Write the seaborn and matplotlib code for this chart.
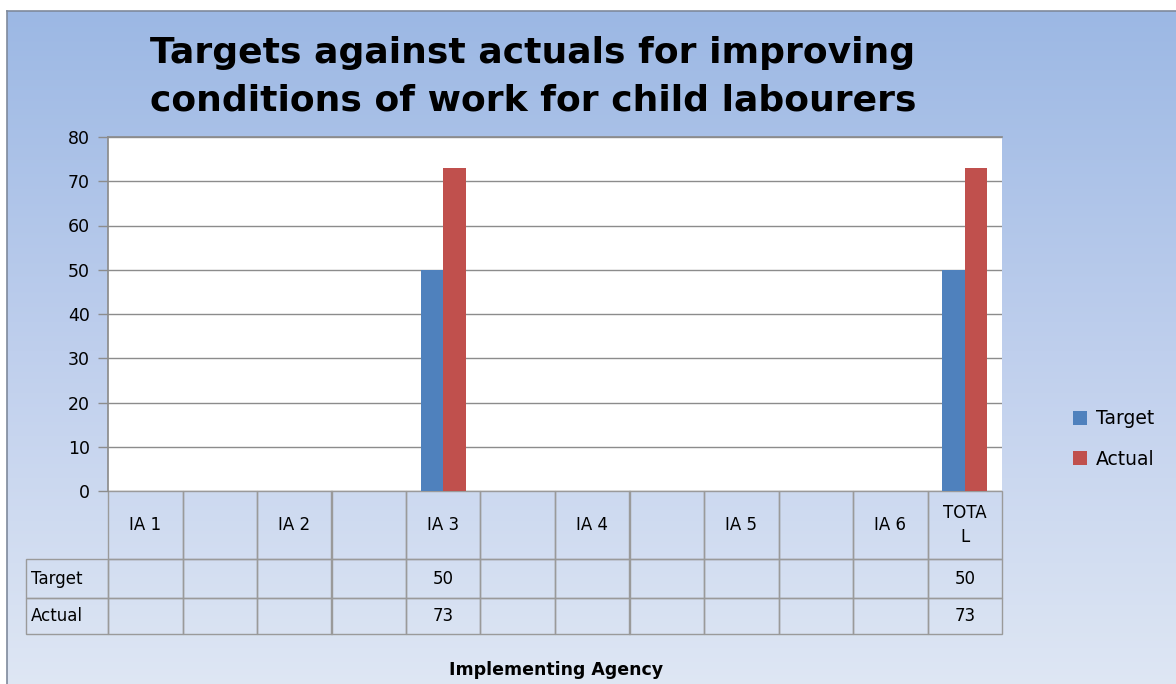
import numpy as np
import pandas as pd
import matplotlib
matplotlib.use("Agg")
import matplotlib.pyplot as plt
import seaborn as sns
from matplotlib.colors import LinearSegmentedColormap

# ---- data ----
categories = ["IA 1", "", "IA 2", "", "IA 3", "", "IA 4", "", "IA 5", "", "IA 6", "TOTAL"]
header_labels = ["IA 1", "", "IA 2", "", "IA 3", "", "IA 4", "", "IA 5", "", "IA 6", "TOTA\nL"]
target = [np.nan, np.nan, np.nan, np.nan, 50, np.nan, np.nan, np.nan, np.nan, np.nan, np.nan, 50]
actual = [np.nan, np.nan, np.nan, np.nan, 73, np.nan, np.nan, np.nan, np.nan, np.nan, np.nan, 73]
series_names = ["Target", "Actual"]
yticks = [0, 10, 20, 30, 40, 50, 60, 70, 80]
title = "Targets against actuals for improving\nconditions of work for child labourers"
xlabel = "Implementing Agency"

colors = ["#4F81BD", "#C0504D"]

sns.set_theme(style="white")
plt.rcParams['font.family'] = ['DejaVu Sans']
plt.rcParams['text.color'] = 'black'
plt.rcParams['ytick.color'] = 'black'
plt.rcParams['axes.labelcolor'] = 'black'

W, H = 1176, 684
fig = plt.figure(figsize=(W / 100, H / 100), dpi=100)
fig.patch.set_facecolor("white")

# background gradient chart area
bg = fig.add_axes([7 / W, -0.01, 1 - 7 / W + 0.01, 1 - 11 / H + 0.01])
cmap = LinearSegmentedColormap.from_list("bg", ["#9CB8E4", "#BFCFED", "#DFE7F4"])
grad = np.linspace(0, 1, 256).reshape(-1, 1)
bg.imshow(grad, aspect="auto", cmap=cmap, extent=[0, 1, 0, 1], origin="upper")
bg.set_xticks([]); bg.set_yticks([])
for k, s in bg.spines.items():
    s.set_color("#7F8A9C"); s.set_linewidth(1.2)
    if k in ("right", "bottom"):
        s.set_visible(False)
bg.set_zorder(-10)

# plot axes
L, R, T, B = 108, 1002, 137, 491
ax = fig.add_axes([L / W, 1 - B / H, (R - L) / W, (B - T) / H])
ax.set_facecolor("white")

slots = list(range(len(categories)))
df = pd.DataFrame({
    "slot": slots * 2,
    "series": [series_names[0]] * len(slots) + [series_names[1]] * len(slots),
    "value": target + actual,
})
sns.barplot(data=df.dropna(), x="slot", y="value", hue="series", order=slots,
            hue_order=series_names, palette=colors, width=0.6, saturation=1,
            linewidth=0, ax=ax, legend=True)

ax.set_ylim(0, 80)
ax.set_xlim(-0.5, len(categories) - 0.5)
ax.set_yticks(yticks)
ax.set_yticklabels([str(v) for v in yticks], fontsize=12.5, color="black")
ax.yaxis.grid(True, color="#8C8C8C", linewidth=1)
ax.set_axisbelow(True)
ax.set_xticks([])
ax.set_xlabel("")
ax.set_ylabel("")
ax.tick_params(axis="y", length=7, color="#8C8C8C", width=1, pad=6, left=True)
for k in ["right", "bottom"]:
    ax.spines[k].set_visible(False)
ax.spines["left"].set_color("#8C8C8C")
ax.spines["top"].set_color("#8C8C8C")

# legend
handles, labels = ax.get_legend_handles_labels()
ax.legend_.remove()
leg = fig.legend(handles, labels, loc="center left", bbox_to_anchor=(1056 / W, 1 - 439 / H),
                 frameon=False, fontsize=13.5, handlelength=0.75, handleheight=0.75,
                 handletextpad=0.5, labelspacing=1.15)
for t in leg.get_texts():
    t.set_color("black")

# data table
def fmt(v):
    return "" if np.isnan(v) else f"{v:.0f}"

cell_text = [[""] + header_labels,
             [series_names[0]] + [fmt(v) for v in target],
             [series_names[1]] + [fmt(v) for v in actual]]
TL, TB = 26, 634
tbl = ax.table(cellText=cell_text, cellLoc="center",
               bbox=[(TL - L) / (R - L), -(TB - B) / (B - T), (R - TL) / (R - L), (TB - B) / (B - T)])
tbl.auto_set_font_size(False)
tbl.set_fontsize(12)
row_h = [68, 39, 36]
label_w = L - TL
col_w = (R - L) / len(categories)
for (r, c), cell in tbl.get_celld().items():
    cell.set_facecolor("none")
    cell.set_edgecolor("#9A9A9A")
    cell.set_linewidth(1)
    cell.set_height(row_h[r])
    cell.set_width(label_w if c == 0 else col_w)
    cell.get_text().set_color("black")
    if c == 0:
        cell.get_text().set_ha("left")
        cell._loc = "left"
        cell.PAD = 0.06
    if r == 0 and c == 0:
        cell.visible_edges = ""
    cell.get_text().set_linespacing(1.5)

# title and axis label
fig.text(533 / W, 1 - 77 / H, title, ha="center", va="center", fontsize=26,
         fontweight="bold", linespacing=1.5, color="black")
fig.text(556 / W, 1 - 670 / H, xlabel, ha="center", va="center", fontsize=12.5,
         fontweight="bold", color="black")

fig.savefig("out.png", dpi=100)
